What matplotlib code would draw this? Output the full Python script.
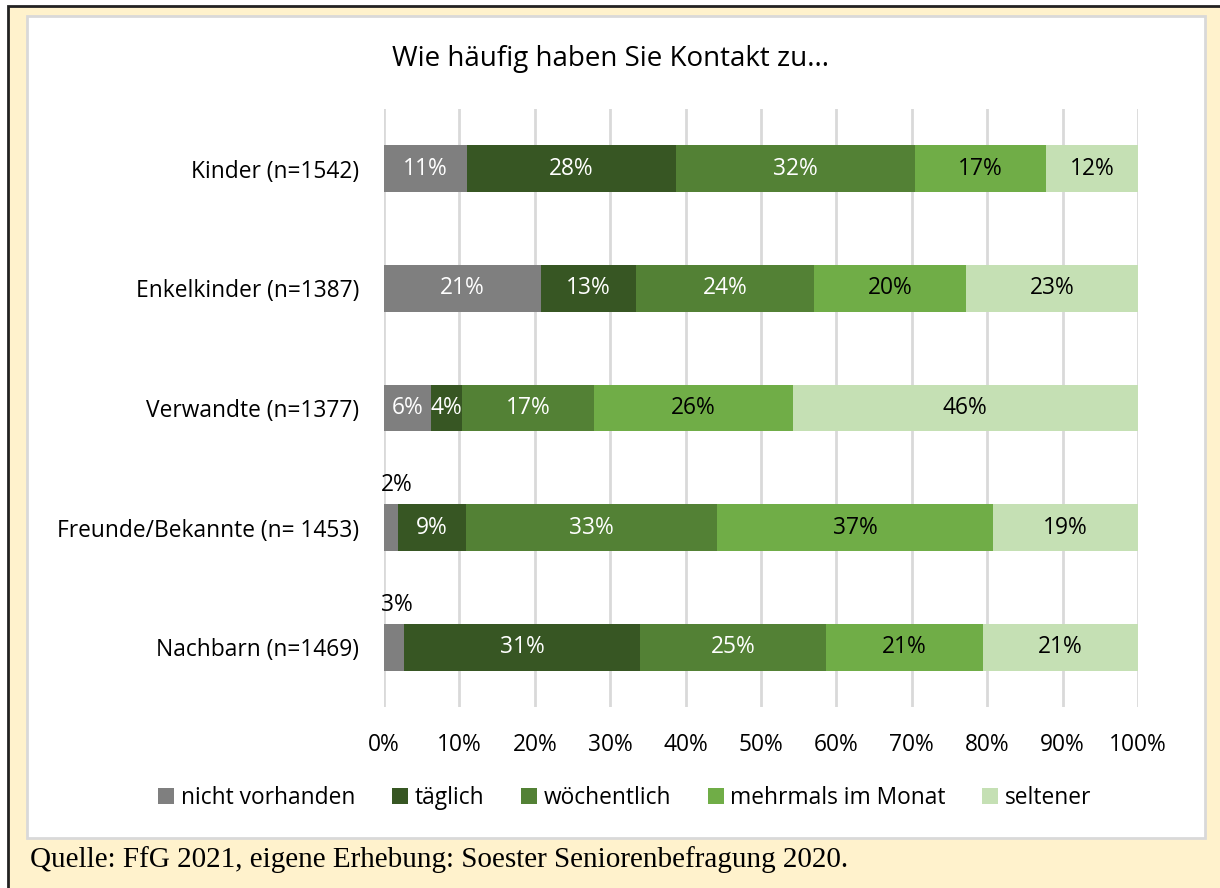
import matplotlib
matplotlib.use("Agg")
import matplotlib.pyplot as plt
from matplotlib.patches import Rectangle, Patch
import numpy as np

W, H = 1220, 888

categories = [
    "Kinder (n=1542)",
    "Enkelkinder (n=1387)",
    "Verwandte (n=1377)",
    "Freunde/Bekannte (n= 1453)",
    "Nachbarn (n=1469)",
]
series_names = ["nicht vorhanden", "täglich", "wöchentlich", "mehrmals im Monat", "seltener"]

nicht_vorhanden = [11.0, 20.8, 6.2, 1.8, 2.6]
taeglich = [27.7, 12.6, 4.2, 9.1, 31.4]
woechentlich = [31.7, 23.6, 17.4, 33.3, 24.6]
mehrmals = [17.4, 20.2, 26.4, 36.6, 20.8]
seltener = [12.2, 22.8, 45.8, 19.2, 20.6]

series = [nicht_vorhanden, taeglich, woechentlich, mehrmals, seltener]
colors = ["#7F7F7F", "#375623", "#538135", "#70AD47", "#C5E0B4"]
label_colors = ["white", "white", "white", "black", "black"]

x_ticks = np.arange(0, 101, 10)

FONT = "Open Sans"
FS = 16.4
plt.rcParams["font.family"] = FONT


def px(x, y):
    # pixel coords (from top-left) -> figure fraction
    return x / W, 1 - y / H


fig = plt.figure(figsize=(W / 100, H / 100), dpi=100)
fig.patch.set_facecolor("white")

# outer cream frame and inner white chart box
x0, y0 = px(8, 6)
fig.patches.append(Rectangle((x0, -0.1), 1.2, y0 + 0.1, transform=fig.transFigure,
                             facecolor="#FFF2CC", edgecolor="#222222", lw=2, zorder=-2))
ix0, iy0 = px(27, 838)
ix1, iy1 = px(1205, 16)
fig.patches.append(Rectangle((ix0, iy0), ix1 - ix0, iy1 - iy0, transform=fig.transFigure,
                             facecolor="white", edgecolor="#D9D9D9", lw=2, zorder=-1))

left, top = px(384, 109)
right, bottom = px(1138, 707)
ax = fig.add_axes([left, bottom, right - left, top - bottom])
ax.set_facecolor("none")

y = np.arange(len(categories))
lefts = np.zeros(len(categories))
for vals, color, name, lc in zip(series, colors, series_names, label_colors):
    vals = np.array(vals)
    ax.barh(y, vals, left=lefts, height=0.39, color=color, label=name, zorder=3)
    for yi, (l, v) in enumerate(zip(lefts, vals)):
        txt = f"{v:.0f}%"
        if v < 3:
            # too small to fit inside -> put above the bar
            ax.annotate(txt, (l, yi - 0.195), xytext=(-2, 5), textcoords="offset points",
                        ha="left", va="bottom", fontsize=FS, color="black")
        else:
            ax.text(l + v / 2, yi, txt, ha="center", va="center", fontsize=FS, color=lc, zorder=4)
    lefts += vals

ax.set_xlim(0, 100)
ax.set_ylim(len(categories) - 0.5, -0.5)
ax.set_yticks(y)
ax.set_yticklabels(categories, fontsize=FS)
ax.set_xticks(x_ticks)
ax.set_xticklabels([f"{t}%" for t in x_ticks], fontsize=FS)
ax.tick_params(length=0)
ax.tick_params(axis="x", pad=19)
ax.tick_params(axis="y", pad=18)
ax.grid(axis="x", color="#D9D9D9", lw=2, zorder=0)
for s in ax.spines.values():
    s.set_visible(False)

fig.text(0.5, px(0, 59)[1], "Wie häufig haben Sie Kontakt zu...", ha="center", va="center", fontsize=20)

handles = [Patch(facecolor=c, label=n) for c, n in zip(colors, series_names)]
fig.legend(handles=handles, loc="center", bbox_to_anchor=(px(625, 0)[0], px(0, 798)[1]),
           ncol=5, frameon=False, fontsize=FS, handlelength=0.7, handleheight=0.7,
           handletextpad=0.3, columnspacing=1.6)

fig.text(px(30, 0)[0], px(0, 860)[1], "Quelle: FfG 2021, eigene Erhebung: Soester Seniorenbefragung 2020.",
         ha="left", va="center", fontsize=21, family="Liberation Serif")

fig.savefig("out.png", dpi=100)
